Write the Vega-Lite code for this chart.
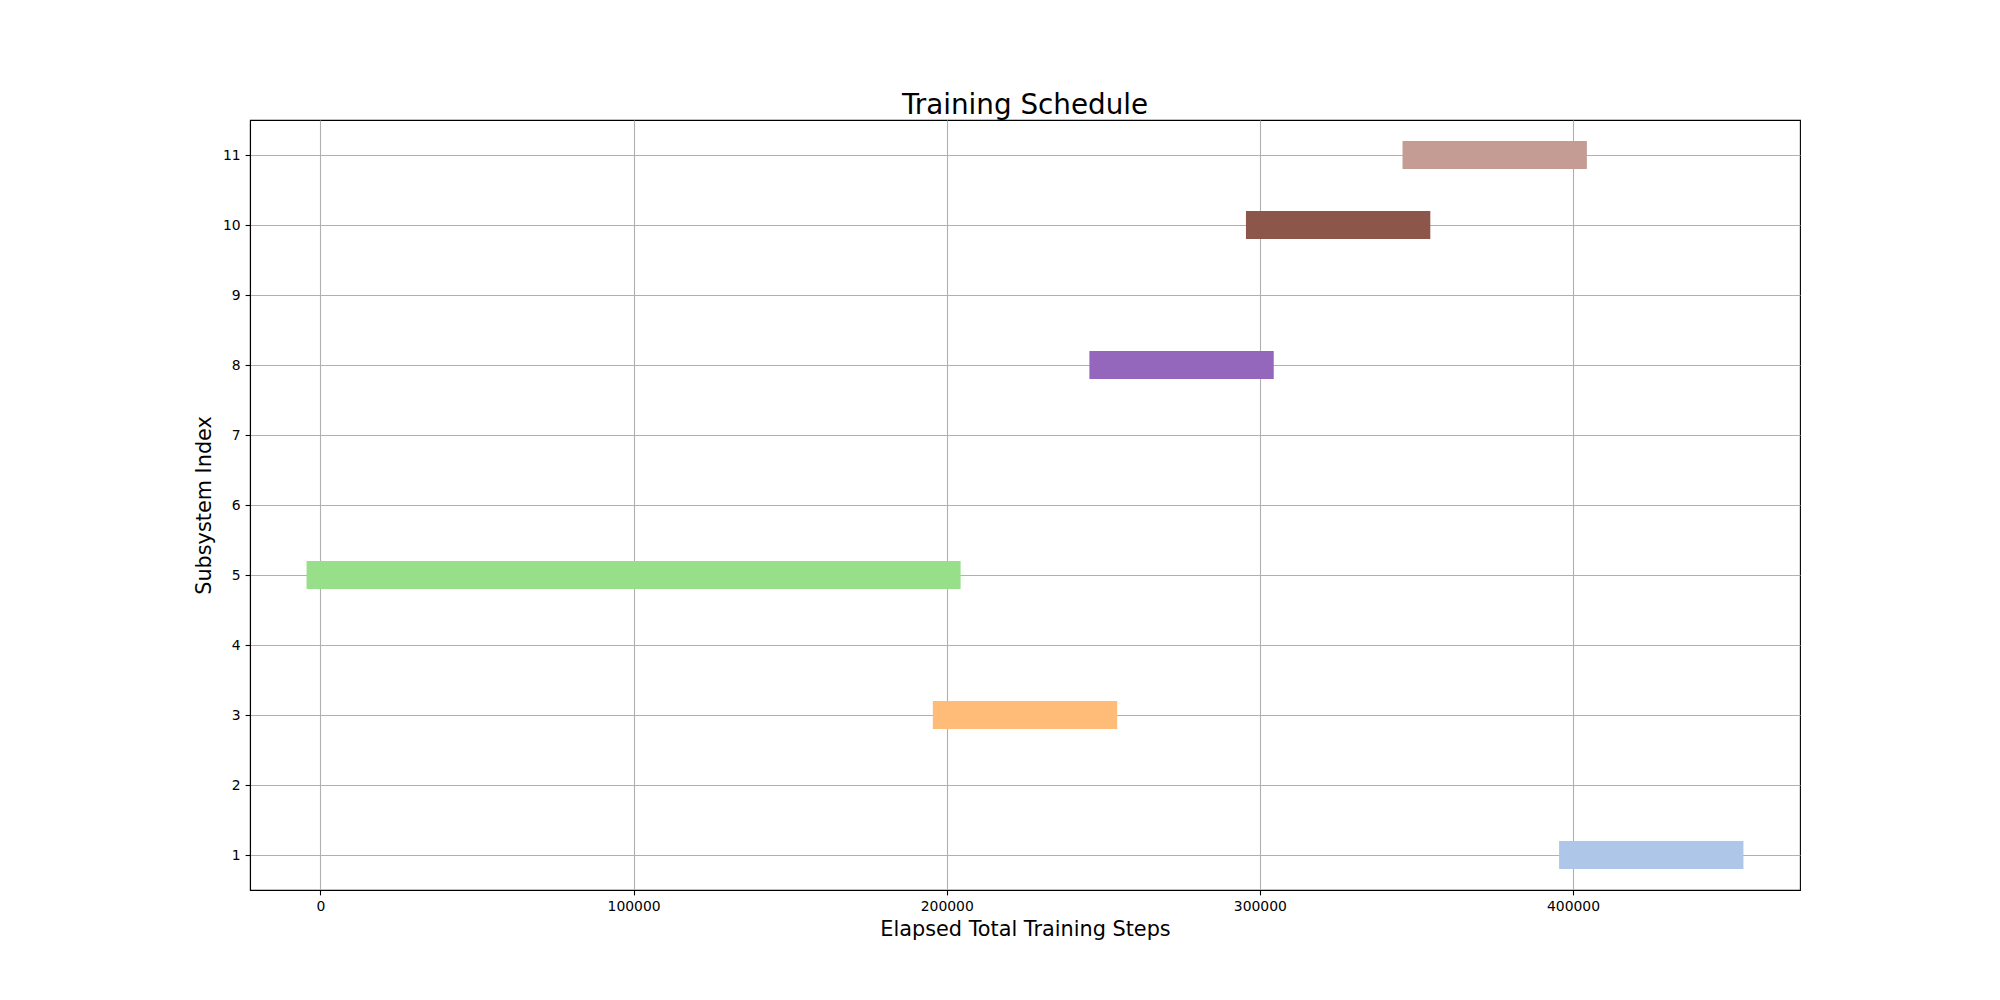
{
  "$schema": "https://vega.github.io/schema/vega-lite/v6.json",
  "width": 1550,
  "height": 770,
  "autosize": {"type": "none"},
  "padding": {"left": 250, "top": 120, "right": 200, "bottom": 110},
  "background": "white",
  "title": {
    "text": "Training Schedule",
    "font": "DejaVu Sans",
    "fontSize": 27.8,
    "fontWeight": "normal",
    "color": "black",
    "anchor": "middle",
    "frame": "group",
    "offset": -28,
    "baseline": "bottom"
  },
  "config": {
    "view": {"stroke": "black", "strokeWidth": 1.1},
    "axis": {
      "labelFont": "DejaVu Sans",
      "labelFontSize": 13.9,
      "labelColor": "black",
      "titleFont": "DejaVu Sans",
      "titleFontSize": 20.8,
      "titleFontWeight": "normal",
      "titleColor": "black",
      "domainColor": "black",
      "domainWidth": 1.1,
      "tickColor": "black",
      "tickWidth": 1.1,
      "tickSize": 4.9,
      "labelPadding": 4.9,
      "gridColor": "#b0b0b0",
      "gridWidth": 1.1,
      "gridOpacity": 1
    }
  },
  "data": {
    "values": [
      {"subsystem": 5, "start": 0, "end": 200000},
      {"subsystem": 3, "start": 200000, "end": 250000},
      {"subsystem": 8, "start": 250000, "end": 300000},
      {"subsystem": 10, "start": 300000, "end": 350000},
      {"subsystem": 11, "start": 350000, "end": 400000},
      {"subsystem": 1, "start": 400000, "end": 450000}
    ]
  },
  "mark": {"type": "rule", "strokeWidth": 27.8, "strokeCap": "square"},
  "encoding": {
    "x": {
      "field": "start",
      "type": "quantitative",
      "scale": {"domain": [-22500, 472500], "nice": false, "zero": false},
      "axis": {
        "title": "Elapsed Total Training Steps",
        "values": [0, 100000, 200000, 300000, 400000],
        "format": "d",
        "titlePadding": 5.6,
        "grid": true
      }
    },
    "x2": {"field": "end"},
    "y": {
      "field": "subsystem",
      "type": "quantitative",
      "scale": {"domain": [0.5, 11.5], "nice": false, "zero": false},
      "axis": {
        "title": "Subsystem Index",
        "values": [1, 2, 3, 4, 5, 6, 7, 8, 9, 10, 11],
        "format": "d",
        "titlePadding": 8,
        "grid": true
      }
    },
    "color": {
      "field": "subsystem",
      "type": "nominal",
      "scale": {
        "domain": [1, 3, 5, 8, 10, 11],
        "range": ["#aec7e8", "#ffbb78", "#98df8a", "#9467bd", "#8c564b", "#c49c94"]
      },
      "legend": null
    }
  }
}
